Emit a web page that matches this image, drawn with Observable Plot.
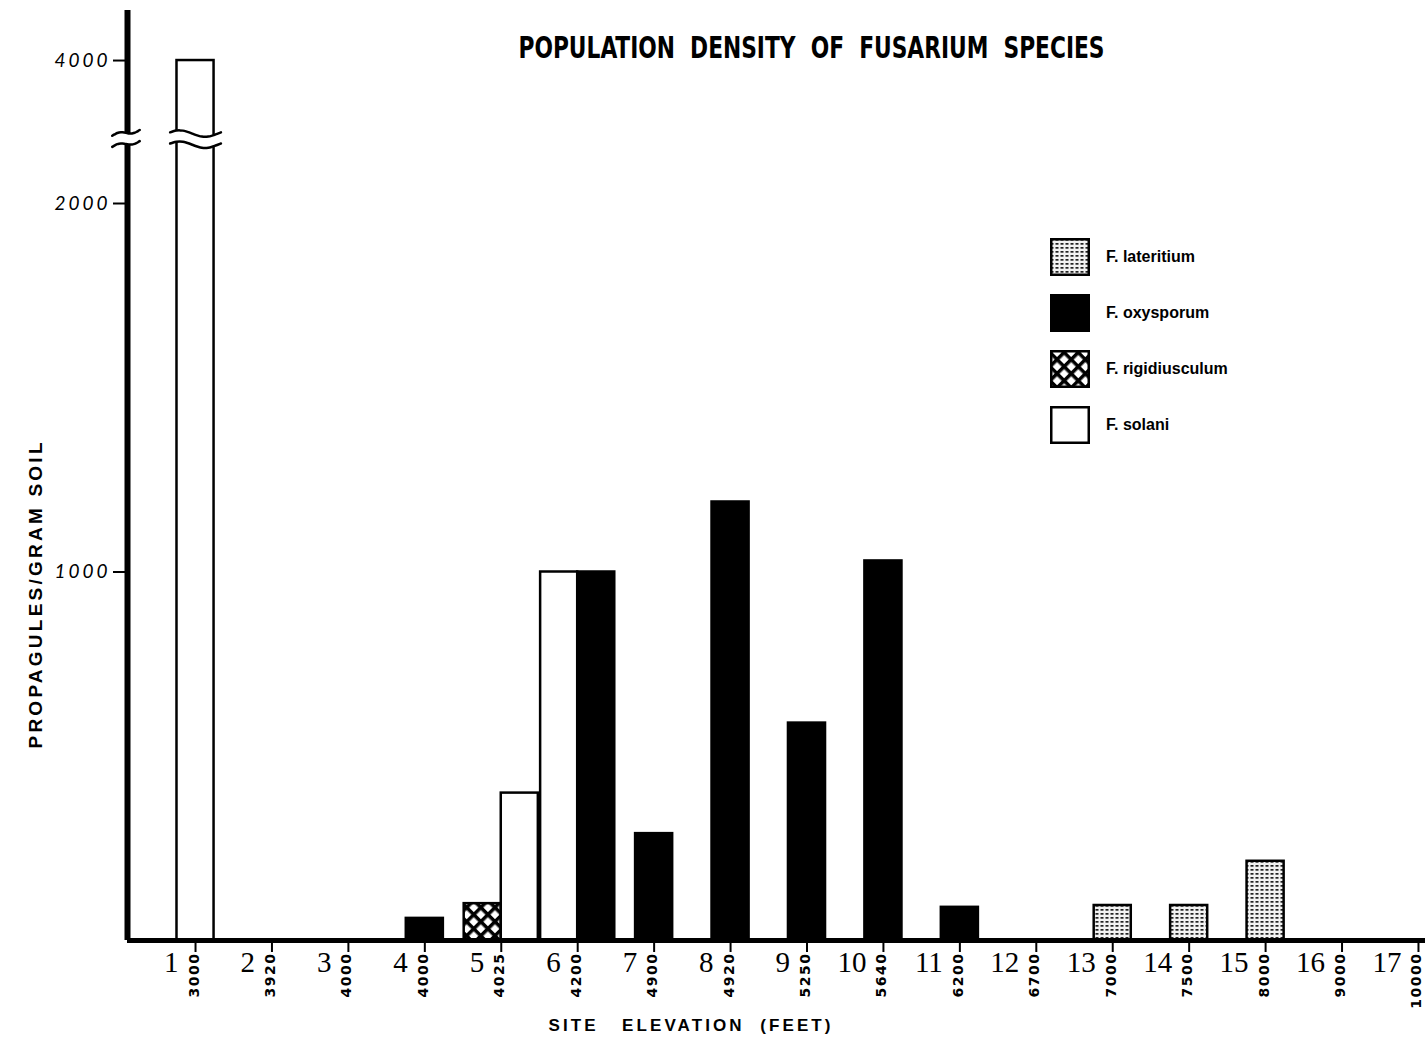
<!DOCTYPE html>
<html><head><meta charset="utf-8">
<script src="https://cdn.jsdelivr.net/npm/d3@7"></script>
<script src="https://cdn.jsdelivr.net/npm/@observablehq/plot@0.6"></script>
<style>
body{margin:0;background:#fff;}
#wrap{position:relative;width:1425px;height:1048px;}
svg text{white-space:pre;}
#legend{position:absolute;left:1050px;top:238px;font-family:"Liberation Sans",sans-serif;font-weight:700;font-size:16px;color:#000;}
.item{display:flex;align-items:center;height:38px;margin-bottom:18px;}
.item svg{margin-right:16px;}
</style></head><body><div id="wrap"><div id="legend"></div></div>
<script>
// ---- data ----
const sites = [1,2,3,4,5,6,7,8,9,10,11,12,13,14,15,16,17];
const elevations = ["3000","3920","4000","4000","4025","4200","4900","4920","5250","5640","6200","6700","7000","7500","8000","9000","10000"];
const species = ["F. lateritium","F. oxysporum","F. rigidiusculum","F. solani"];
const lateritium    = [0,0,0,0,0,0,0,0,0,0,0,0,95,95,215,0,0];
const oxysporum     = [0,0,0,60,0,1000,290,1190,590,1030,90,0,0,0,0,0,0];
const rigidiusculum = [0,0,0,0,100,0,0,0,0,0,0,0,0,0,0,0,0];
const solani        = [4000,0,0,0,400,1000,0,0,0,0,0,0,0,0,0,0,0];
const yTicks = [1000,2000,4000];
const title = "POPULATION  DENSITY  OF  FUSARIUM  SPECIES";
const xTitle = "SITE   ELEVATION  (FEET)";
const yTitle = "PROPAGULES/GRAM SOIL";

// ---- styles ----
const fills = {
  "F. lateritium": "url(#pat-lat)",
  "F. oxysporum": "#000",
  "F. rigidiusculum": "url(#pat-rig)",
  "F. solani": "#fff"
};
const seriesOf = {"F. lateritium": lateritium, "F. oxysporum": oxysporum, "F. rigidiusculum": rigidiusculum, "F. solani": solani};
const barOrder = ["F. rigidiusculum","F. solani","F. oxysporum","F. lateritium"];
const barW = 0.485;
const xMin = 0.11, xMax = 17.092;

// build bar records
const rows = [];
for (const sp of barOrder) sites.forEach((s,i) => { const v = seriesOf[sp][i]; if (v > 0) rows.push({site: s, species: sp, value: v}); });
const bySite = d3.group(rows, d => d.site);
for (const [s, arr] of bySite) arr.forEach((d,k) => { d.x1 = s - arr.length*barW/2 + k*barW; d.x2 = d.x1 + barW; });

// axis break decoration (data units)
const breakMid = 2900, breakGap = 78, amp = 45;
const tSteps = d3.range(0, 1.0001, 1/16);
const barBreak = tSteps.map(t => ({x: 1 - barW/2 - 0.09 + t*(barW + 0.18), c: breakMid + amp*Math.sin(2*Math.PI*t + 0.4)}));
const axBreak = tSteps.map(t => ({x: xMin - 0.2 + t*0.36, c: breakMid + 10 + 80*(t-0.5) + 25*Math.sin(2*Math.PI*t)}));

const marks = [
  ...species.map(sp => Plot.rect(rows.filter(d => d.species === sp), {x1: "x1", x2: "x2", y1: 0, y2: "value", fill: fills[sp], stroke: "#000", strokeWidth: 2.5})),
  Plot.ruleX([xMin], {y1: 0, y2: 4700, strokeWidth: 6, stroke: "#000"}),
  Plot.ruleY([0], {x1: xMin, x2: xMax, strokeWidth: 5, stroke: "#000"}),
  Plot.axisX({ticks: sites, tickFormat: () => "", tickSize: 12, strokeWidth: 2, label: null}),
  Plot.axisY({ticks: yTicks, tickSize: 14, tickPadding: 3, strokeWidth: 2, fontSize: 19, fontStyle: "italic", fontFamily: "Lato", tickFormat: d => String(d), label: null}),
  // breaks
  Plot.areaY(barBreak, {x: "x", y1: d => d.c - breakGap, y2: d => d.c + breakGap, fill: "#fff", curve: "natural"}),
  Plot.line(barBreak, {x: "x", y: d => d.c + breakGap, stroke: "#000", strokeWidth: 2.5, curve: "natural"}),
  Plot.line(barBreak, {x: "x", y: d => d.c - breakGap, stroke: "#000", strokeWidth: 2.5, curve: "natural"}),
  Plot.areaY(axBreak, {x: "x", y1: d => d.c - breakGap, y2: d => d.c + breakGap, fill: "#fff", curve: "natural"}),
  Plot.line(axBreak, {x: "x", y: d => d.c + breakGap, stroke: "#000", strokeWidth: 2.5, curve: "natural"}),
  Plot.line(axBreak, {x: "x", y: d => d.c - breakGap, stroke: "#000", strokeWidth: 2.5, curve: "natural"}),
  // x labels
  Plot.text(sites, {x: d => d, text: d => String(d), frameAnchor: "bottom", textAnchor: "end", dx: -17, dy: 31, fontSize: 29, fontFamily: "Liberation Serif"}),
  Plot.text(sites, {x: d => d, text: (d,i) => elevations[i], frameAnchor: "bottom", rotate: -90, textAnchor: "end", dx: 3, dy: 12, fontSize: 14, fontWeight: "bold", fontFamily: "DejaVu Sans", className: "elev"}),
  // titles
  Plot.text([title], {text: d => d, frameAnchor: "top", textAnchor: "middle", dx: 35, dy: 25, fontSize: 31, fontWeight: "bold", fontFamily: "DejaVu Sans Condensed", className: "ttl"}),
  Plot.text([xTitle], {text: d => d, frameAnchor: "bottom", textAnchor: "middle", dx: -87, dy: 90, fontSize: 17, fontWeight: "bold", fontFamily: "Liberation Sans", className: "xttl"}),
  Plot.text([yTitle], {text: d => d, frameAnchor: "left", textAnchor: "middle", rotate: -90, dx: -92, dy: 120, fontSize: 19, fontWeight: "bold", fontFamily: "Liberation Sans", className: "yttl"})
];

const svg = Plot.plot({
  width: 1425, height: 1048,
  marginLeft: 127, marginRight: 0, marginTop: 10, marginBottom: 108,
  x: {type: "linear", domain: [xMin, xMax]},
  y: {type: "linear", domain: [0, 2000, 4700], range: [940, 203, 10]},
  style: {background: "#fff", color: "#000", overflow: "visible"},
  marks
});

const defs = d3.select(svg).insert("defs", ":first-child");
const pl = defs.append("pattern").attr("id", "pat-lat").attr("width", 5).attr("height", 4).attr("patternUnits", "userSpaceOnUse");
pl.append("rect").attr("width", 5).attr("height", 4).attr("fill", "#f2f2f2");
pl.append("rect").attr("x", 0.5).attr("y", 1).attr("width", 3).attr("height", 1.7).attr("fill", "#222");
const pr = defs.append("pattern").attr("id", "pat-rig").attr("width", 10).attr("height", 10).attr("patternUnits", "userSpaceOnUse").attr("patternTransform", "rotate(45)");
pr.append("rect").attr("width", 10).attr("height", 10).attr("fill", "#fff");
pr.append("rect").attr("width", 10).attr("height", 3.5).attr("fill", "#000");
pr.append("rect").attr("width", 3.5).attr("height", 10).attr("fill", "#000");

// text spacing tweaks (not Plot text options)
const sel = d3.select(svg);
sel.selectAll(".elev text").attr("letter-spacing", 1.5);
sel.selectAll(".ttl text").attr("textLength", 586).attr("lengthAdjust", "spacingAndGlyphs");
sel.selectAll(".yttl text").attr("textLength", 306).attr("lengthAdjust", "spacing");
sel.selectAll(".xttl text").attr("textLength", 282).attr("lengthAdjust", "spacing");
sel.selectAll('g[aria-label="y-axis tick label"] text').attr("letter-spacing", 3);

const wrap = document.getElementById("wrap");
wrap.insertBefore(svg, wrap.firstChild);

// legend
const legend = d3.select("#legend");
for (const sp of species) {
  const it = legend.append("div").attr("class", "item");
  const s = it.append("svg").attr("width", 40).attr("height", 38);
  s.append("rect").attr("x", 1.25).attr("y", 1.25).attr("width", 37.5).attr("height", 35.5).attr("fill", fills[sp]).attr("stroke", "#000").attr("stroke-width", 2.5);
  it.append("span").text(sp);
}
</script></body></html>
